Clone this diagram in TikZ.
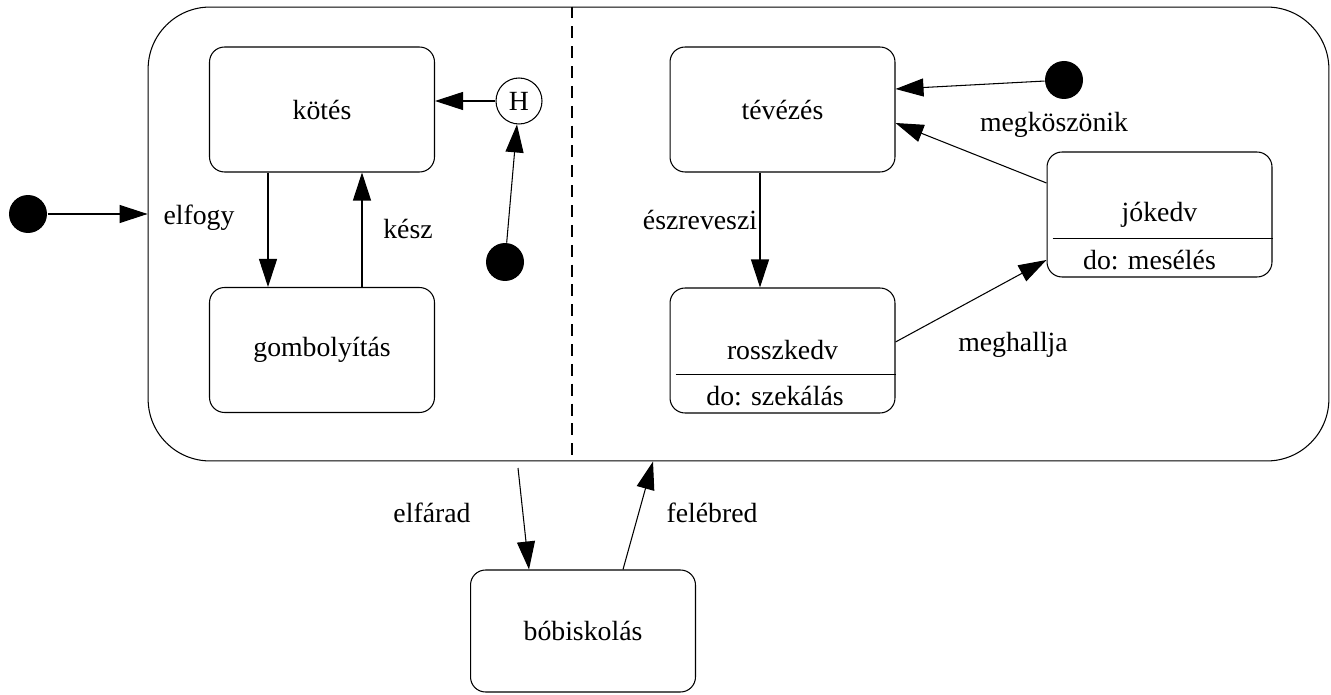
\documentclass[tikz,border=0pt]{standalone}
\usepackage{fontspec}
\setmainfont{Liberation Serif}
\usepackage{tikz}
\usetikzlibrary{arrows.meta,positioning,calc}

\begin{document}
\begin{tikzpicture}[x=0.02cm,y=-0.02cm,line width=0.6pt,
	font=\fontsize{15.8}{19}\selectfont,
	state/.style={draw,rectangle,rounded corners=0.3cm,minimum width=4.5cm,minimum height=2.5cm,inner sep=0pt},
	dot/.style={circle,fill,minimum size=0.76cm,inner sep=0pt},
	trans/.style={-{Triangle[length=0.56cm,width=0.36cm]}},
	divider/.style={dash pattern=on 6.8pt off 4.5pt}]
	\useasboundingbox (0,0) rectangle (1331,695);
	
	\node[draw,rectangle,rounded corners=1.24cm,minimum width=23.62cm,minimum height=9.08cm] (awake) at (738.5,234) {};
	\draw[divider] (awake.north -| 572,0) -- (awake.south -| 572,0);
	
	% left region
	\node[state] (kotes) at (322,109.5) {kötés};
	\node[state] (gomb) at (322,350) {gombolyítás};
	\node[draw,circle,minimum size=0.92cm,inner sep=0pt] (hist) at (519,101) {H};
	\node[dot] (init1) at (505,262) {};
	
	\draw[trans] (hist) -- (hist -| kotes.east);
	\draw[trans] (init1) -- (hist);
	\draw[trans] ([xshift=-1.08cm]kotes.south) -- ([xshift=-1.08cm]gomb.north);
	\draw[trans] ([xshift=0.8cm]gomb.north) -- ([xshift=0.8cm]kotes.south);
	\node (lkesz) at (408,229) {kész};
	
	% right region
	\node[state] (teve) at (782.5,109.5) {tévézés};
	\node[state] (rossz) at (782.5,350.5) {rosszkedv};
	\node (rosszdo) at ([xshift=-0.15cm,yshift=-0.92cm]rossz.center) {do: szekálás};
	\draw ([yshift=0.78cm,xshift=0.12cm]rossz.south west) -- ([yshift=0.78cm]rossz.south east);
	\node[state] (jo) at (1159.5,214.5) {jókedv};
	\node (jodo) at ([xshift=-0.2cm,yshift=-0.91cm]jo.center) {do: mesélés};
	\draw ([yshift=0.78cm,xshift=0.12cm]jo.south west) -- ([yshift=0.78cm]jo.south east);
	\node[dot] (init2) at (1064,80) {};
	
	\draw[trans] (init2) -- ([yshift=0.41cm]teve.east);
	\draw[trans] ([xshift=-0.45cm]teve.south) -- ([xshift=-0.45cm]rossz.north);
	\draw[trans] ([yshift=0.17cm]rossz.east) -- ([yshift=-0.91cm]jo.west);
	\draw[trans] ([yshift=0.63cm]jo.west) -- ([yshift=-0.27cm]teve.east);
	\node (lmegk) at (1054,125) {megköszönik};
	\node (leszre) at (700,220) {észreveszi};
	\node (lmegh) at (1013,345) {meghallja};
	
	% entry and sleeping
	\node[dot] (init0) at (28,214) {};
	\draw[trans] (init0) -- (init0 -| awake.west);
	\node (lelfogy) at (199,218) {elfogy};
	
	\node[state,minimum height=2.44cm] (bobi) at (583,631) {bóbiskolás};
	\coordinate (tired) at (518,468);
	\coordinate (wake) at (awake.south -| 653,0);
	\draw[trans] (tired) -- ([xshift=-1.08cm]bobi.north);
	\draw[trans] ([xshift=0.8cm]bobi.north) -- (wake);
	\node (lelfar) at (432,513) {elfárad};
	\node (lfeleb) at (712,513) {felébred};
\end{tikzpicture}
\end{document}
